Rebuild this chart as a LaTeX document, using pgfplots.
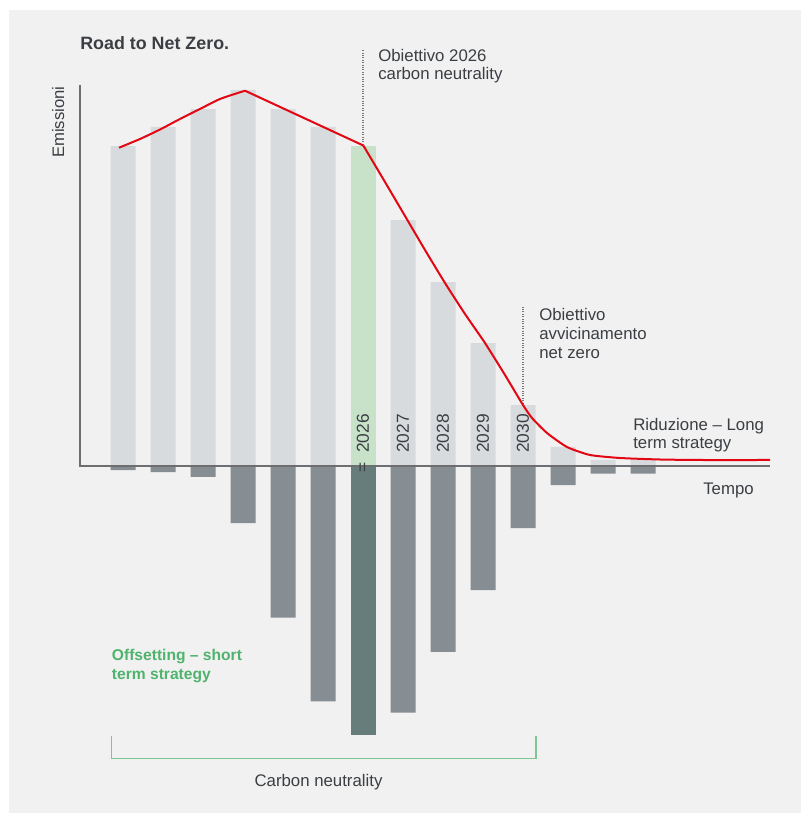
\documentclass[border=0pt]{standalone}
\usepackage{pgfplots}
\pgfplotsset{compat=1.18}
\usepackage{fontspec}
\setmainfont{Liberation Sans}
\definecolor{bg}{HTML}{F1F1F1}
\definecolor{upper}{HTML}{D8DBDE}
\definecolor{uppergreen}{HTML}{C7E2C9}
\definecolor{lower}{HTML}{868D93}
\definecolor{lowergreen}{HTML}{667D7C}
\definecolor{redline}{HTML}{E30613}
\definecolor{txt}{HTML}{3B3F43}
\definecolor{axgray}{HTML}{6E6E70}
\definecolor{dotgray}{HTML}{7A7A7A}
\definecolor{gtext}{HTML}{4FB36D}
\definecolor{brgreen}{HTML}{7CC693}
\tikzset{yearlab/.style={rotate=90, anchor=west, inner sep=0pt, text=txt, font=\fontsize{13}{15}\selectfont}}
\begin{document}
\begin{tikzpicture}
\fill[white] (0,0) rectangle (600.75pt,-609.75pt);
\fill[bg] (6.75pt,-7.5pt) rectangle (600.75pt,-609.75pt);
\begin{axis}[at={(60pt,-570pt)}, anchor=south west, scale only axis,
  width=517.5pt, height=506.25pt,
  xmin=-1.075, xmax=16.175, ymin=-78.19, ymax=101.33,
  axis lines=none, ticks=none, clip=false]
% upper bars (emissions)
\addplot[ybar, bar width=18.75pt, bar shift=0pt, fill=upper, draw=none] coordinates {
 (0,85.1) (1,90.2) (2,94.9) (3,100) (4,94.9) (5,90.2)
 (7,65.4) (8,48.9) (9,32.7) (10,16.2) (11,5.1) (12,1.6) (13,1.6)};
\addplot[ybar, bar width=18.75pt, bar shift=0pt, fill=uppergreen, draw=none] coordinates {(6,85.1)};
% lower bars (offsetting)
\addplot[ybar, bar width=18.75pt, bar shift=0pt, fill=lower, draw=none] coordinates {
 (0,-1.1) (1,-1.6) (2,-2.9) (3,-15.2) (4,-40.3) (5,-62.6)
 (7,-65.6) (8,-49.4) (9,-33.0) (10,-16.5) (11,-5.1) (12,-2.0) (13,-2.0)};
\addplot[ybar, bar width=18.75pt, bar shift=0pt, fill=lowergreen, draw=none] coordinates {(6,-71.5)};
% axis lines
\draw[axgray, line width=1pt] (axis cs:-1.075,101.33) -- (axis cs:-1.075,0) -- (axis cs:16.175,0);
% dotted markers
\draw[dotgray, densely dotted, line width=0.8pt] (axis cs:6,110.6) -- (axis cs:6,85.1);
\draw[dotgray, densely dotted, line width=0.8pt] (axis cs:10,42.4) -- (axis cs:10,16.2);
% red trajectory
\addplot[redline, line width=1.5pt, smooth, tension=0.4, line join=round] coordinates {
 (-0.1,84.65) (0.425,86.97) (0.925,89.49) (1.425,92.29) (1.925,94.95) (2.425,97.61) (3.05,99.81)};
\addplot[redline, line width=1.5pt, line join=round] coordinates {
 (3.05,99.81) (6.0075,85.24)};
\addplot[redline, line width=1.5pt, smooth, tension=0.35, line join=round] coordinates {
 (6.0075,85.24) (6.55,75.53) (7.05,66.49) (7.55,57.45) (8.05,48.67) (8.55,40.43)
 (9.05,32.71) (9.55,24.20) (10.0,16.22) (10.225,12.77) (10.6,8.78) (11.1,5.05)
 (11.675,2.93) (12.425,2.13) (13.425,1.73) (14.425,1.60) (16.175,1.60)};
% year labels
\node[yearlab] at (axis cs:6,3.46) {2026};
\node[yearlab] at (axis cs:7,3.46) {2027};
\node[yearlab] at (axis cs:8,3.46) {2028};
\node[yearlab] at (axis cs:9,3.46) {2029};
\node[yearlab] at (axis cs:10,3.46) {2030};
\node[rotate=90, anchor=center, inner sep=0pt, text=txt, font=\fontsize{13}{15}\selectfont] at (axis cs:6.02,-0.4) {=};
\end{axis}
\begin{scope}[x=0.75pt, y=-0.75pt]
\node[anchor=base west, inner sep=0pt, text=txt, font=\bfseries\fontsize{13.4}{16}\selectfont] at (80,50) {Road to Net Zero.};
\node[anchor=base west, inner sep=0pt, rotate=90, text=txt, font=\fontsize{12.5}{15}\selectfont] at (64,158) {Emissioni};
\begin{scope}[every node/.style={anchor=base west, inner sep=0pt, text=txt, font=\fontsize{12.6}{15}\selectfont}]
\node at (378,61.5) {Obiettivo 2026};
\node at (378,80) {carbon neutrality};
\node at (539,320) {Obiettivo};
\node at (539,339.3) {avvicinamento};
\node at (539,358.3) {net zero};
\node at (633,430) {Riduzione – Long};
\node at (633,448.5) {term strategy};
\node at (703,494) {Tempo};
\end{scope}
\node[anchor=base west, inner sep=0pt, text=gtext, font=\bfseries\fontsize{11.7}{14}\selectfont] at (111.7,660) {Offsetting – short};
\node[anchor=base west, inner sep=0pt, text=gtext, font=\bfseries\fontsize{11.7}{14}\selectfont] at (111.7,679) {term strategy};
\draw[brgreen, line width=1.1pt] (111.7,735.7) -- (111.7,758.3) -- (536,758.3) -- (536,735.7);
\node[anchor=base, inner sep=0pt, text=txt, font=\fontsize{12.6}{15}\selectfont] at (318.5,786.7) {Carbon neutrality};
\end{scope}
\pgfresetboundingbox
\useasboundingbox (0,0) rectangle (600.75pt,-609.75pt);
\end{tikzpicture}
\end{document}
